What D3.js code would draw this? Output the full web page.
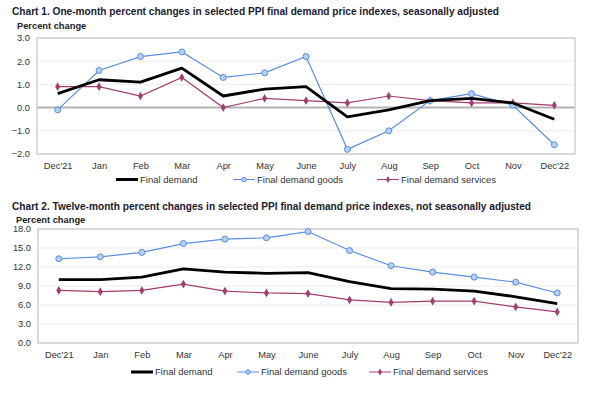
<html>
<head>
<meta charset="utf-8">
<script src="https://d3js.org/d3.v7.min.js"></script>
<style>
  body { margin: 0; background: #fff; }
  svg { font-family: "Liberation Sans", Arial, sans-serif; }
  .title { font-size: 10.2px; font-weight: bold; fill: #1a1a2e; }
  .unit { font-size: 9.3px; font-weight: bold; fill: #222; }
  .tick text { font-size: 9.3px; fill: #333; }
  .legend text { font-size: 9.5px; fill: #333; }
</style>
</head>
<body>
<div id="chart"></div>
<script>
// month labels shared by both charts
const months = ["Dec'21", "Jan", "Feb", "Mar", "Apr", "May", "June", "July", "Aug", "Sep", "Oct", "Nov", "Dec'22"];

// Chart 1: one-month percent changes, seasonally adjusted
const oneMonthDemand   = [0.6, 1.2, 1.1, 1.7, 0.5, 0.8, 0.9, -0.4, -0.1, 0.3, 0.4, 0.2, -0.5];
const oneMonthGoods    = [-0.1, 1.6, 2.2, 2.4, 1.3, 1.5, 2.2, -1.8, -1.0, 0.3, 0.6, 0.1, -1.6];
const oneMonthServices = [0.9, 0.9, 0.5, 1.3, 0.0, 0.4, 0.3, 0.2, 0.5, 0.3, 0.2, 0.2, 0.1];
const oneMonthTicks    = [-2, -1, 0, 1, 2, 3];

// Chart 2: twelve-month percent changes, not seasonally adjusted
const twelveMonthDemand   = [10.0, 10.0, 10.4, 11.7, 11.2, 11.0, 11.1, 9.7, 8.6, 8.5, 8.2, 7.3, 6.2];
const twelveMonthGoods    = [13.3, 13.6, 14.3, 15.7, 16.4, 16.6, 17.6, 14.6, 12.2, 11.2, 10.4, 9.6, 7.9];
const twelveMonthServices = [8.3, 8.1, 8.3, 9.3, 8.2, 7.9, 7.8, 6.8, 6.4, 6.6, 6.6, 5.7, 4.9];
const twelveMonthTicks    = [0, 3, 6, 9, 12, 15, 18];

const seriesNames = ["Final demand", "Final demand goods", "Final demand services"];

const svg = d3.select("#chart").append("svg")
  .attr("width", 600)
  .attr("height", 395);

const colors = {
  demand: "#000000",
  goods: "#5b8ee0",
  goodsFill: "#b4d0f4",
  services: "#a13f6f"
};

function drawChart(cfg) {
  const g = svg.append("g");

  g.append("text").attr("class", "title")
    .attr("x", 12).attr("y", cfg.titleY)
    .attr("textLength", cfg.titleW)
    .attr("lengthAdjust", "spacingAndGlyphs")
    .text(cfg.title);
  g.append("text").attr("class", "unit")
    .attr("x", cfg.unitX).attr("y", cfg.unitY)
    .text("Percent change");

  const x = d3.scalePoint()
    .domain(months)
    .range([cfg.left, cfg.right])
    .padding(0.5);
  const y = d3.scaleLinear()
    .domain(d3.extent(cfg.ticks))
    .range([cfg.bottom, cfg.top]);

  // gridlines
  g.append("g").selectAll("line")
    .data(cfg.ticks)
    .join("line")
    .attr("x1", cfg.left).attr("x2", cfg.right)
    .attr("y1", d => y(d)).attr("y2", d => y(d))
    .attr("stroke", "#ececec")
    .attr("stroke-width", 1);

  if (cfg.ticks[0] < 0) {
    g.append("line")
      .attr("x1", cfg.left).attr("x2", cfg.right)
      .attr("y1", y(0)).attr("y2", y(0))
      .attr("stroke", "#b3b3b3")
      .attr("stroke-width", 2);
  }

  // plot frame
  g.append("rect")
    .attr("x", cfg.left).attr("y", cfg.top)
    .attr("width", cfg.right - cfg.left)
    .attr("height", cfg.bottom - cfg.top)
    .attr("fill", "none")
    .attr("stroke", "#cfcfcf")
    .attr("stroke-width", 1.5);

  // axes
  const yAxis = g.append("g")
    .attr("transform", `translate(${cfg.left},0)`)
    .call(d3.axisLeft(y).tickValues(cfg.ticks).tickFormat(d3.format(".1f")).tickSize(0).tickPadding(7));
  yAxis.select(".domain").remove();

  const xAxis = g.append("g")
    .attr("transform", `translate(0,${cfg.bottom})`)
    .call(d3.axisBottom(x).tickSize(0).tickPadding(8));
  xAxis.select(".domain").remove();

  const line = d3.line()
    .x((d, i) => x(months[i]))
    .y(d => y(d));

  // services
  g.append("path").datum(cfg.services)
    .attr("d", line)
    .attr("fill", "none")
    .attr("stroke", colors.services)
    .attr("stroke-width", 1.2);
  g.append("g").selectAll("path")
    .data(cfg.services)
    .join("path")
    .attr("transform", (d, i) => `translate(${x(months[i])},${y(d)})`)
    .attr("d", d3.symbol(d3.symbolDiamond, 22))
    .attr("fill", colors.services);

  // goods
  g.append("path").datum(cfg.goods)
    .attr("d", line)
    .attr("fill", "none")
    .attr("stroke", colors.goods)
    .attr("stroke-width", 1.2);
  g.append("g").selectAll("circle")
    .data(cfg.goods)
    .join("circle")
    .attr("cx", (d, i) => x(months[i]))
    .attr("cy", d => y(d))
    .attr("r", 3)
    .attr("fill", colors.goodsFill)
    .attr("stroke", colors.goods)
    .attr("stroke-width", 1);

  // final demand
  g.append("path").datum(cfg.demand)
    .attr("d", line)
    .attr("fill", "none")
    .attr("stroke", colors.demand)
    .attr("stroke-width", 2.8)
    .attr("stroke-linejoin", "round");

  // legend
  const leg = g.append("g").attr("class", "legend");
  const ly = cfg.legendY;
  const lx = cfg.legendX;

  leg.append("line")
    .attr("x1", lx[0]).attr("x2", lx[0] + 22)
    .attr("y1", ly).attr("y2", ly)
    .attr("stroke", colors.demand).attr("stroke-width", 3);
  leg.append("line")
    .attr("x1", lx[1]).attr("x2", lx[1] + 22)
    .attr("y1", ly).attr("y2", ly)
    .attr("stroke", colors.goods).attr("stroke-width", 1);
  leg.append("circle")
    .attr("cx", lx[1] + 11).attr("cy", ly).attr("r", 2.2)
    .attr("fill", colors.goodsFill).attr("stroke", colors.goods);
  leg.append("line")
    .attr("x1", lx[2]).attr("x2", lx[2] + 22)
    .attr("y1", ly).attr("y2", ly)
    .attr("stroke", colors.services).attr("stroke-width", 1);
  leg.append("path")
    .attr("transform", `translate(${lx[2] + 11},${ly})`)
    .attr("d", d3.symbol(d3.symbolDiamond, 14))
    .attr("fill", colors.services);

  leg.selectAll("text")
    .data(seriesNames)
    .join("text")
    .attr("x", (d, i) => lx[i] + 24)
    .attr("y", ly)
    .attr("dy", "0.35em")
    .text(d => d);
}

drawChart({
  title: "Chart 1. One-month percent changes in selected PPI final demand price indexes, seasonally adjusted",
  titleY: 15, titleW: 487, unitX: 17, unitY: 28.5,
  left: 37, right: 575, top: 38, bottom: 154,
  ticks: oneMonthTicks,
  demand: oneMonthDemand, goods: oneMonthGoods, services: oneMonthServices,
  legendY: 179.5, legendX: [116, 233, 377]
});

drawChart({
  title: "Chart 2. Twelve-month percent changes in selected PPI final demand price indexes, not seasonally adjusted",
  titleY: 210, titleW: 519, unitX: 16, unitY: 222.5,
  left: 38, right: 578, top: 229, bottom: 343,
  ticks: twelveMonthTicks,
  demand: twelveMonthDemand, goods: twelveMonthGoods, services: twelveMonthServices,
  legendY: 372, legendX: [131, 237, 369]
});
</script>
</body>
</html>
